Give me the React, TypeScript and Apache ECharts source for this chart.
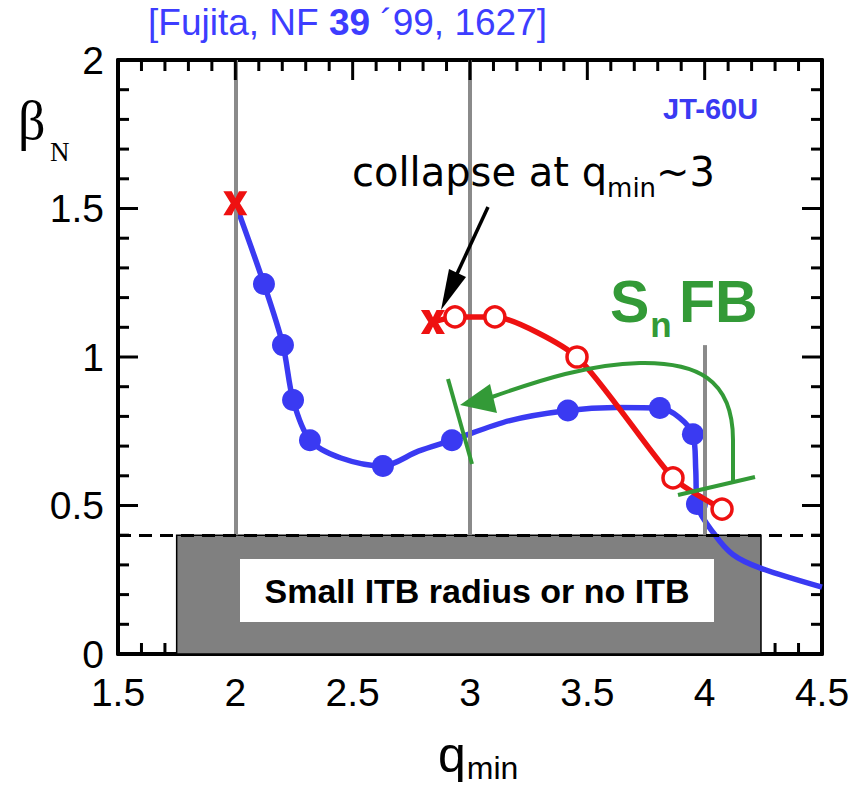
import React, { useEffect, useRef } from 'react';
import * as echarts from 'echarts';

// ---- data ----
const xTicks = [1.5, 2, 2.5, 3, 3.5, 4, 4.5];
const yTicks = [0, 0.5, 1, 1.5, 2];
const minorSplit = 5;
const blueCurve: [number, number][] = [
  [2.0, 1.518], [2.122, 1.246], [2.203, 1.04], [2.246, 0.855], [2.318, 0.72],
  [2.45, 0.66], [2.629, 0.633], [2.78, 0.683], [2.923, 0.72], [3.17, 0.786],
  [3.417, 0.82], [3.62, 0.83], [3.809, 0.828], [3.95, 0.74], [3.962, 0.62],
  [3.967, 0.505], [4.04, 0.405], [4.12, 0.335], [4.235, 0.29], [4.5, 0.225],
];
const blueDots: [number, number][] = [
  [2.122, 1.246], [2.203, 1.04], [2.246, 0.855], [2.318, 0.72], [2.629, 0.633],
  [2.923, 0.72], [3.417, 0.82], [3.809, 0.828], [3.95, 0.74], [3.967, 0.505],
];
const redCurve: [number, number][] = [
  [2.842, 1.118], [2.936, 1.135], [3.106, 1.135], [3.456, 1.0], [3.865, 0.593], [4.074, 0.488],
];
const redCircles: [number, number][] = [
  [2.936, 1.135], [3.106, 1.135], [3.456, 1.0], [3.865, 0.593], [4.074, 0.488],
];
const collapsePoints: [number, number][] = [[2.0, 1.518], [2.842, 1.118]];
const refLines: { q: number; top: number }[] = [
  { q: 2, top: 2.0 }, { q: 3, top: 2.0 }, { q: 4, top: 1.04 },
];
const threshold = 0.4;
const lowRegion = { qFrom: 1.75, qTo: 4.24 };

const BLUE = '#3a3af2';
const TITLE_BLUE = '#3d3dff';
const RED = '#ee1111';
const GREEN = '#339a37';
const SANS = '"Liberation Sans", Arial, sans-serif';
const DEJAVU = '"DejaVu Sans", sans-serif';
const SERIF = '"Liberation Serif", "Times New Roman", serif';

const GRID = { left: 118, top: 60, width: 704, height: 594 };

const X_PATH = 'path://M0,0 L3.5,0 L5,3 L6.5,0 L10,0 L6.9,5 L10,10 L6.5,10 L5,7 L3.5,10 L0,10 L3.1,5 Z';

function measure(text: string, size: number, family: string, weight = 'normal') {
  const c = document.createElement('canvas').getContext('2d')!;
  c.font = `${weight} ${size}px ${family}`;
  return c.measureText(text).width;
}

function txt(text: string, x: number, base: number, size: number, family: string, fill: string, weight = 'normal', align = 'left') {
  return {
    type: 'text', x, y: base - 0.35 * size, z: 100,
    style: { text, fontSize: size, fontFamily: family, fontWeight: weight, fill, align, verticalAlign: 'middle' },
  };
}

function axisBase(min: number, max: number) {
  return {
    type: 'value', min, max, interval: 0.5,
    axisLine: { show: true, onZero: false, lineStyle: { color: '#000', width: 4 } },
    axisTick: { show: false },
    minorTick: { show: false },
    splitLine: { show: false },
    minorSplitLine: { show: false },
  };
}

function tickValues(arr: number[]) {
  const out: { v: number; major: boolean }[] = [];
  for (let i = 0; i < arr.length; i++) {
    out.push({ v: arr[i], major: true });
    if (i < arr.length - 1) {
      const step = (arr[i + 1] - arr[i]) / minorSplit;
      for (let k = 1; k < minorSplit; k++) out.push({ v: arr[i] + k * step, major: false });
    }
  }
  return out;
}

// frame ticks as thin filled rectangles, positioned through the chart's own axes
function tickRects(chart: any) {
  const g: any[] = [];
  const MAJOR = 20, MINOR = 11, W = 3;
  const xMin = xTicks[0], xMax = xTicks[xTicks.length - 1];
  const yMin = yTicks[0], yMax = yTicks[yTicks.length - 1];
  const lin = (xv: number, yv: number): [number, number] => [
    GRID.left + ((xv - xMin) / (xMax - xMin)) * GRID.width,
    GRID.top + GRID.height - ((yv - yMin) / (yMax - yMin)) * GRID.height,
  ];
  const toPx = (xv: number, yv: number): [number, number] => {
    let p: any = null;
    try { p = chart.convertToPixel({ gridIndex: 0 }, [xv, yv]); } catch (e) { p = null; }
    const f = lin(xv, yv);
    if (!p || !isFinite(p[0]) || !isFinite(p[1]) || Math.abs(p[0] - f[0]) > 6 || Math.abs(p[1] - f[1]) > 6) return f;
    return [Number(p[0]), Number(p[1])];
  };
  const [left, bottom] = toPx(xMin, yMin);
  const [right, top] = toPx(xMax, yMax);
  const rect = (x: number, y: number, w: number, h: number) =>
    g.push({ type: 'rect', z: 95, shape: { x, y, width: w, height: h }, style: { fill: '#000' } });
  for (const t of tickValues(xTicks)) {
    const x = toPx(t.v, yMin)[0];
    const L = t.major ? MAJOR : MINOR;
    if (t.v < lowRegion.qFrom || t.v > lowRegion.qTo) rect(x - W / 2, bottom - L, W, L);
    rect(x - W / 2, top, W, L);
  }
  for (const t of tickValues(yTicks)) {
    const y = toPx(xMin, t.v)[1];
    const L = t.major ? MAJOR : MINOR;
    rect(left, y - W / 2, L, W);
    rect(right - L, y - W / 2, L, W);
  }
  return g;
}

function annotations() {
  const g: any[] = [];
  // title
  let x = 148;
  const tSize = 37;
  const tb = 35;
  const p1 = '[Fujita, NF ';
  g.push(txt(p1, x, tb, tSize, SANS, TITLE_BLUE));
  x += measure(p1, tSize, SANS);
  g.push(txt('39', x, tb, tSize, SANS, TITLE_BLUE, 'bold'));
  x += measure('39', tSize, SANS, 'bold');
  g.push(txt(' \u00b499, 1627]', x, tb, tSize, SANS, TITLE_BLUE));
  // JT-60U
  g.push(txt('JT-60U', 663, 119, 29, SANS, BLUE, 'bold'));
  // beta_N
  g.push(txt('\u03b2', 18, 140, 54, SERIF, '#000'));
  g.push(txt('N', 50, 161, 27, SERIF, '#000'));
  // q_min axis name
  g.push(txt('q', 438, 772, 50, SANS, '#000'));
  g.push(txt('min', 438 + measure('q', 50, SANS) + 1, 779, 32, SANS, '#000'));
  // collapse annotation
  let cx = 352;
  const c1 = 'collapse at q';
  g.push(txt(c1, cx, 186, 40, DEJAVU, '#000'));
  cx += measure(c1, 40, DEJAVU);
  g.push(txt('min', cx, 197, 26, DEJAVU, '#000'));
  cx += measure('min', 26, DEJAVU);
  g.push(txt('~3', cx, 186, 40, DEJAVU, '#000'));
  g.push({ type: 'line', z: 100, shape: { x1: 488, y1: 207, x2: 456, y2: 276 }, style: { stroke: '#000', lineWidth: 3.5 } });
  g.push({ type: 'polygon', z: 100, shape: { points: [[441, 310], [449, 269], [466, 277]] }, style: { fill: '#000' } });
  // S_n FB
  const sSize = 59;
  g.push(txt('S', 610, 323, sSize, SANS, GREEN, 'bold'));
  g.push(txt('n', 610 + measure('S', sSize, SANS, 'bold') + 1, 337, 35, SANS, GREEN, 'bold'));
  g.push(txt('FB', 679, 323, sSize, SANS, GREEN, 'bold'));
  // green feedback bracket
  const gs = { stroke: GREEN, lineWidth: 4, fill: 'none' };
  g.push({ type: 'line', z: 100, shape: { x1: 678, y1: 495, x2: 755, y2: 477 }, style: gs });
  g.push({ type: 'line', z: 100, shape: { x1: 733, y1: 482, x2: 733, y2: 440 }, style: gs });
  g.push({ type: 'bezierCurve', z: 100, shape: { x1: 733, y1: 440, cpx1: 733, cpy1: 378, cpx2: 695, cpy2: 362, x2: 640, y2: 363 }, style: gs });
  g.push({ type: 'bezierCurve', z: 100, shape: { x1: 640, y1: 363, cpx1: 590, cpy1: 364, cpx2: 540, cpy2: 380, x2: 492, y2: 397 }, style: gs });
  g.push({ type: 'polygon', z: 100, shape: { points: [[460, 405], [490, 384], [497, 413]] }, style: { fill: GREEN } });
  g.push({ type: 'line', z: 100, shape: { x1: 448, y1: 379, x2: 472, y2: 464 }, style: gs });
  // white label box
  g.push({ type: 'rect', z: 100, shape: { x: 240, y: 559, width: 474, height: 63 }, style: { fill: '#fff' } });
  g.push({
    type: 'text', x: 477, y: 591, z: 101,
    style: { text: 'Small ITB radius or no ITB', fontSize: 34, fontWeight: 'bold', fontFamily: SANS, fill: '#000', align: 'center', verticalAlign: 'middle' },
  });
  return g;
}

export default function App() {
  const ref = useRef<HTMLDivElement>(null);
  useEffect(() => {
    const chart = echarts.init(ref.current!, null, { renderer: 'svg' });
    const xb = axisBase(xTicks[0], xTicks[xTicks.length - 1]);
    const yb = axisBase(yTicks[0], yTicks[yTicks.length - 1]);
    const labelStyle = { color: '#000', fontSize: 39, fontFamily: SANS, showMinLabel: true, showMaxLabel: true };
    chart.setOption({
      animation: false,
      backgroundColor: '#fff',
      grid: { ...GRID, containLabel: false },
      xAxis: [
        { ...xb, position: 'bottom', axisLabel: { ...labelStyle, margin: 19 } },
        { ...xb, position: 'top', axisLabel: { show: false } },
      ],
      yAxis: [
        { ...yb, position: 'left', axisLabel: { ...labelStyle, margin: 14 } },
        { ...yb, position: 'right', axisLabel: { show: false } },
      ],
      series: [
        {
          type: 'line', data: [], z: 2, silent: true,
          markArea: {
            silent: true,
            itemStyle: { color: '#808080', borderColor: '#000', borderWidth: 1.5, opacity: 1 },
            data: [[{ coord: [lowRegion.qFrom, 0] }, { coord: [lowRegion.qTo, threshold] }]],
          },
          markLine: {
            silent: true, symbol: 'none', label: { show: false },
            lineStyle: { color: '#8a8a8a', width: 4, type: 'solid' },
            data: [
              ...refLines.map((r) => [{ coord: [r.q, threshold] }, { coord: [r.q, r.top] }]),
              { yAxis: threshold, lineStyle: { color: '#000', width: 3, type: [13, 8] } },
            ],
          },
        },
        {
          type: 'line', data: blueCurve, smooth: 0.3, symbol: 'none', z: 3,
          lineStyle: { color: BLUE, width: 5.5 },
        },
        {
          type: 'scatter', data: blueDots, symbol: 'circle', symbolSize: 22, z: 4,
          itemStyle: { color: BLUE, opacity: 1 },
        },
        {
          type: 'line', data: redCurve, smooth: 0.2, symbol: 'none', z: 5,
          lineStyle: { color: RED, width: 5.5 },
        },
        {
          type: 'scatter', data: redCircles, symbol: 'circle', symbolSize: 20, z: 6,
          itemStyle: { color: '#fff', borderColor: RED, borderWidth: 3.5, opacity: 1 },
        },
        {
          type: 'scatter', data: collapsePoints, symbol: X_PATH, symbolSize: [24, 24], z: 7,
          itemStyle: { color: RED, opacity: 1 },
        },
      ],
    });
    chart.setOption({ graphic: [...annotations(), ...tickRects(chart)] });
    return () => chart.dispose();
  }, []);
  return <div ref={ref} style={{ position: 'fixed', left: 0, top: 0, width: 867, height: 793, background: '#fff' }} />;
}
